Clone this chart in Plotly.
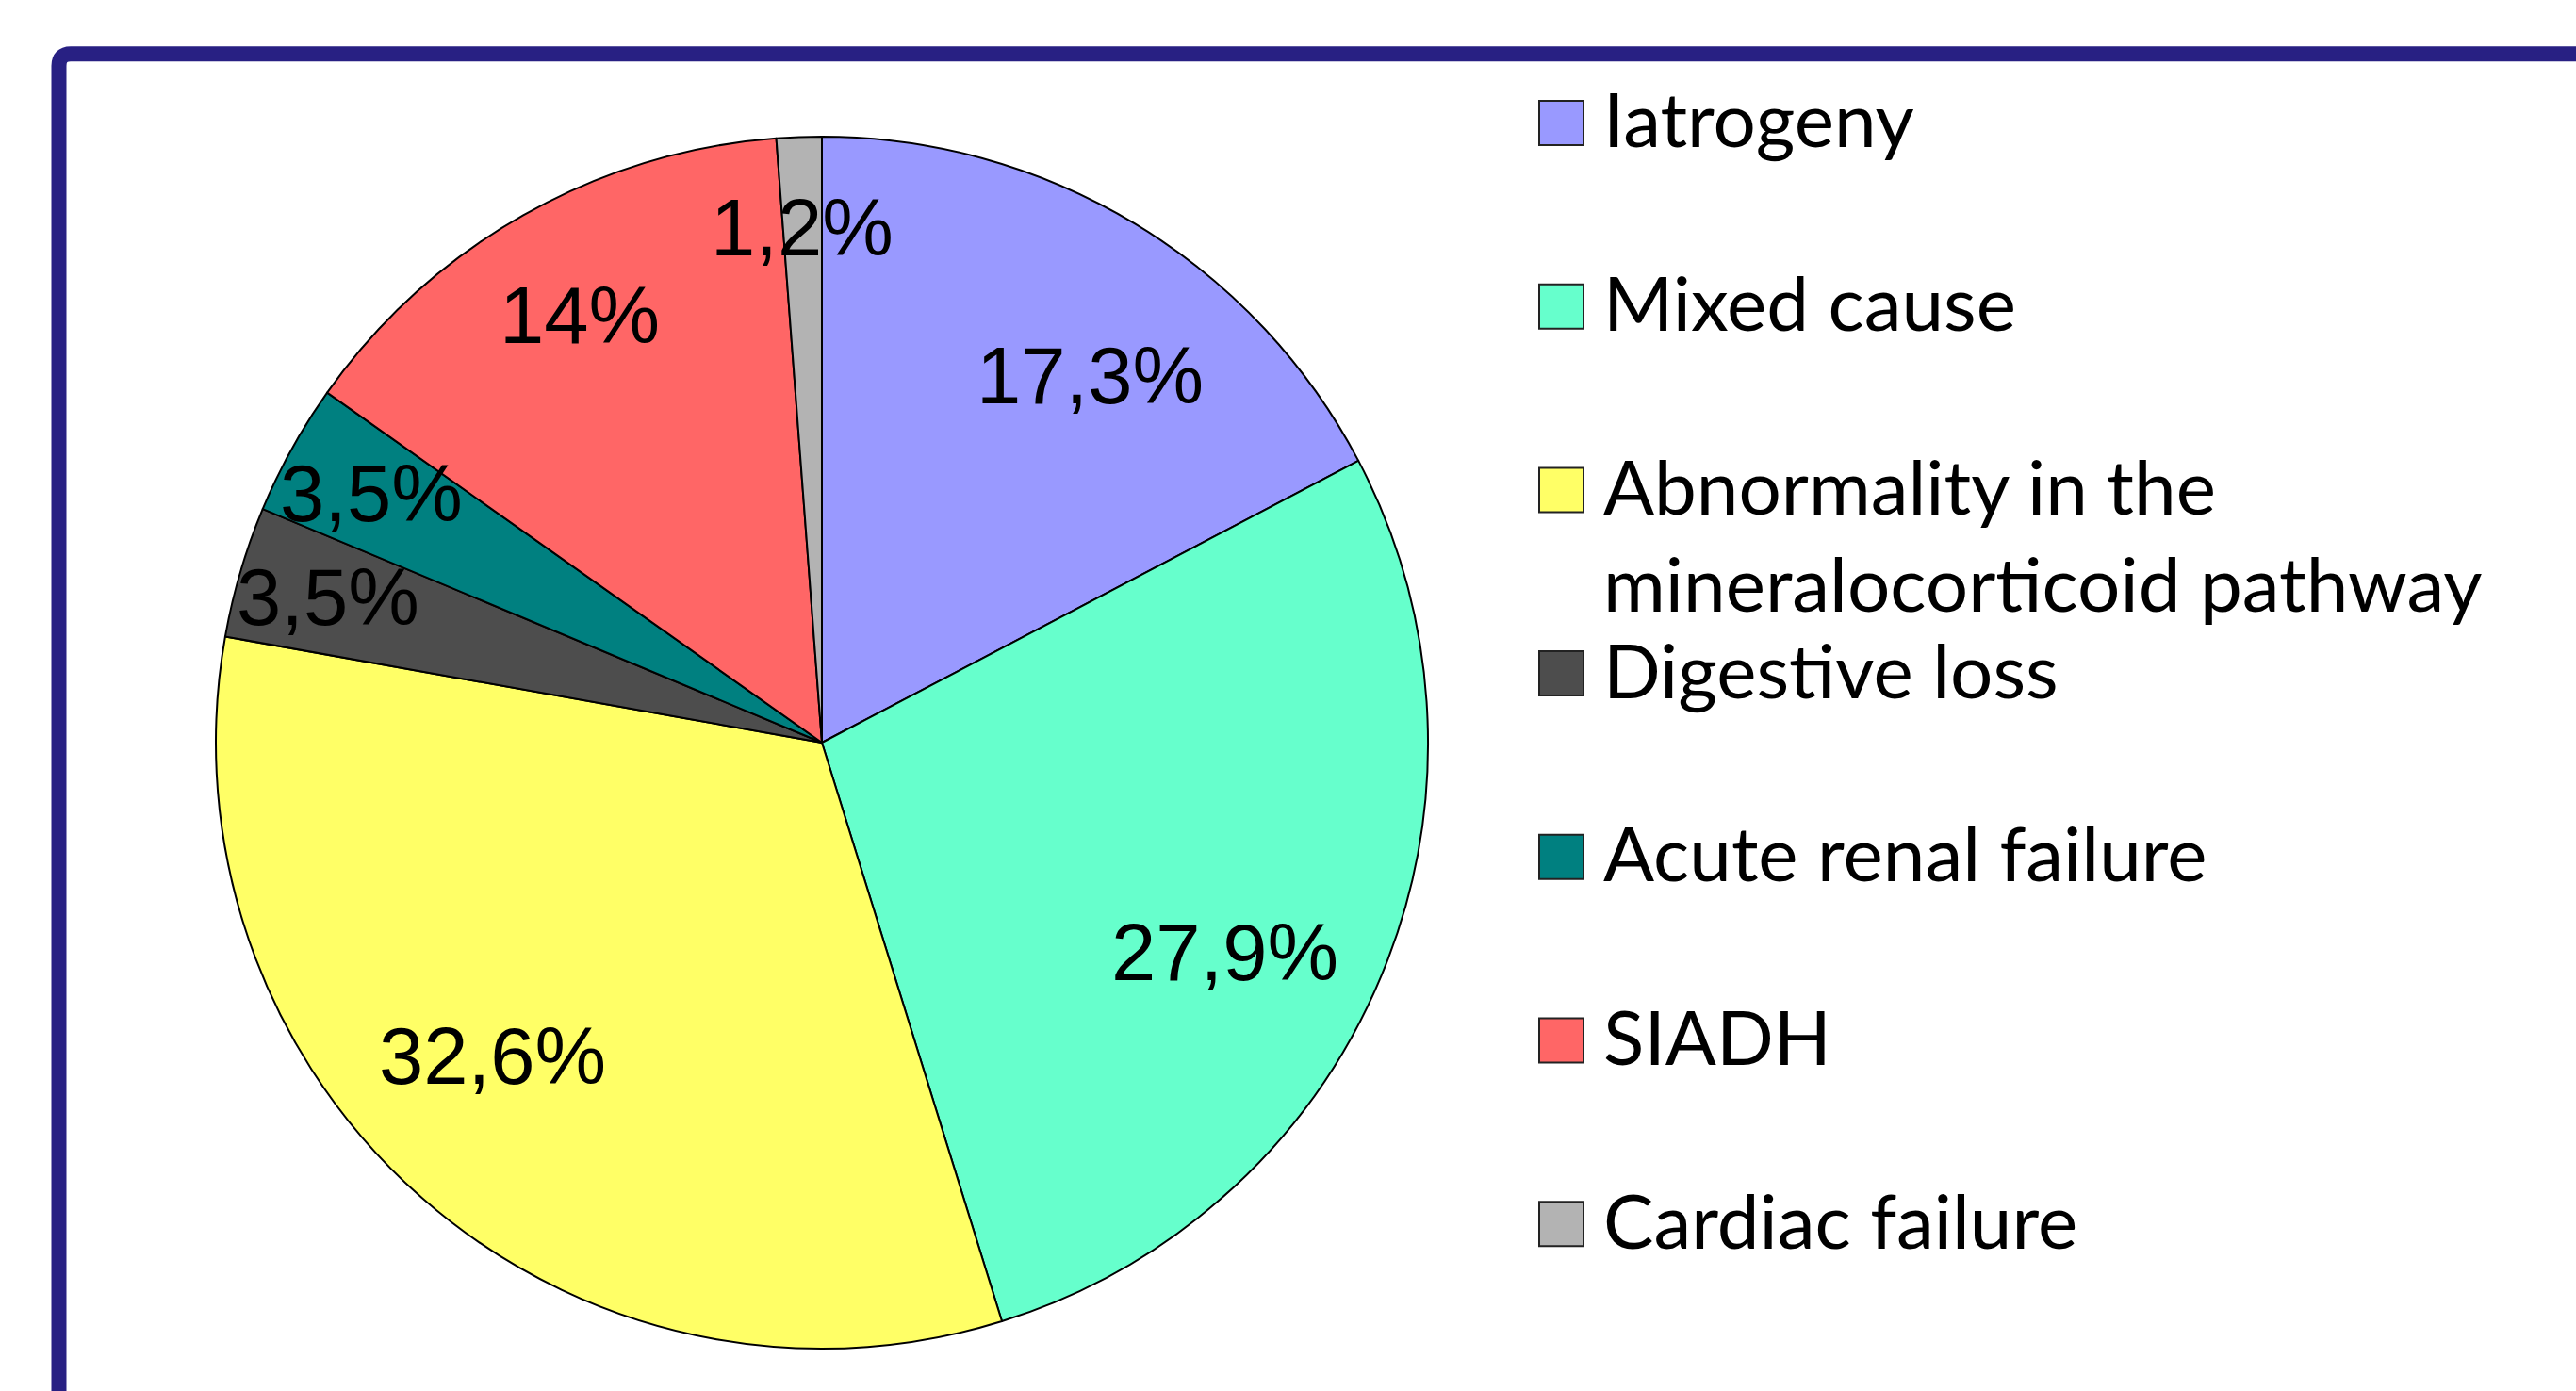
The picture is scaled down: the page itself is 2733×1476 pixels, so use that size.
import math
import textwrap
import plotly.graph_objects as go

# ---- data ----
categories = [
    "Iatrogeny",
    "Mixed cause",
    "Abnormality in the mineralocorticoid pathway",
    "Digestive loss",
    "Acute renal failure",
    "SIADH",
    "Cardiac failure",
]
values = [17.3, 27.9, 32.6, 3.5, 3.5, 14.0, 1.2]
value_labels = ["17,3%", "27,9%", "32,6%", "3,5%", "3,5%", "14%", "1,2%"]
colors = ["#9999FF", "#66FFCC", "#FFFF66", "#4D4D4D", "#008080", "#FF6666", "#B3B3B3"]

# ---- layout geometry (pixels) ----
W, H = 2733, 1476
CX, CY, R = 872, 788, 643  # pie centre / radius in px


def px_x(x):
    return x / W


def px_y(y):
    return 1 - y / H


fig = go.Figure()
fig.add_trace(go.Pie(
    labels=categories,
    values=values,
    sort=False,
    direction="clockwise",
    rotation=0,
    marker=dict(colors=colors, line=dict(color="black", width=2)),
    textposition="none",
    showlegend=False,
    hoverinfo="label+percent",
    domain=dict(x=[px_x(CX - R), px_x(CX + R)], y=[px_y(CY + R), px_y(CY - R)]),
))

annotations = []
# slice labels placed near the mid-angle of each slice (best-fit style)
total = sum(values)
cum = 0.0
for v, lab in zip(values, value_labels):
    mid = (cum + v / 2) / total * 2 * math.pi
    cum += v
    if v >= 15:
        frac, shift = 0.75, math.radians(5)
    elif v >= 5:
        frac, shift = 0.81, 0.0
    else:
        frac, shift = 0.85, 0.0
    ang = mid + shift
    x = CX + frac * R * math.sin(ang)
    y = CY - frac * R * math.cos(ang)
    annotations.append(dict(
        x=px_x(x), y=px_y(y), xref="paper", yref="paper",
        text=lab, showarrow=False, xanchor="center", yanchor="middle",
        font=dict(family="Liberation Sans, Arial", size=85, color="black"),
    ))

# manual legend
shapes = []
LEG_X0, LEG_SIZE, LEG_Y0, LEG_STEP, LINE_GAP, TXT_X = 1633, 47, 130.5, 194.7, 103, 1699
for i, (name, col) in enumerate(zip(categories, colors)):
    yc = LEG_Y0 + i * LEG_STEP
    shapes.append(dict(
        type="rect", xref="paper", yref="paper",
        x0=px_x(LEG_X0), x1=px_x(LEG_X0 + LEG_SIZE),
        y0=px_y(yc + LEG_SIZE / 2), y1=px_y(yc - LEG_SIZE / 2),
        fillcolor=col, line=dict(color="#222222", width=2),
    ))
    for k, line in enumerate(textwrap.wrap(name, 25)):
        annotations.append(dict(
            x=px_x(TXT_X), y=px_y(yc - 5 + k * LINE_GAP), xref="paper", yref="paper",
            text=line, showarrow=False, xanchor="left", yanchor="middle",
            font=dict(family="Lato", size=80, color="black"),
        ))

# navy frame (top and left visible, running off the page)
shapes.append(dict(
    type="path", xref="paper", yref="paper",
    path=f"M {px_x(62.5)},{px_y(H + 50)} L {px_x(62.5)},{px_y(70)} "
         f"Q {px_x(62.5)},{px_y(57.3)} {px_x(75)},{px_y(57.3)} L {px_x(W + 50)},{px_y(57.3)}",
    line=dict(color="#282083", width=16),
))

fig.update_layout(
    width=W, height=H,
    margin=dict(l=0, r=0, t=0, b=0),
    paper_bgcolor="white", plot_bgcolor="white",
    shapes=shapes,
    annotations=annotations,
)

fig.write_html(
    "out.html",
    config={"displayModeBar": False},
    post_script="document.body.style.margin='0';document.body.style.overflow='hidden';",
)
